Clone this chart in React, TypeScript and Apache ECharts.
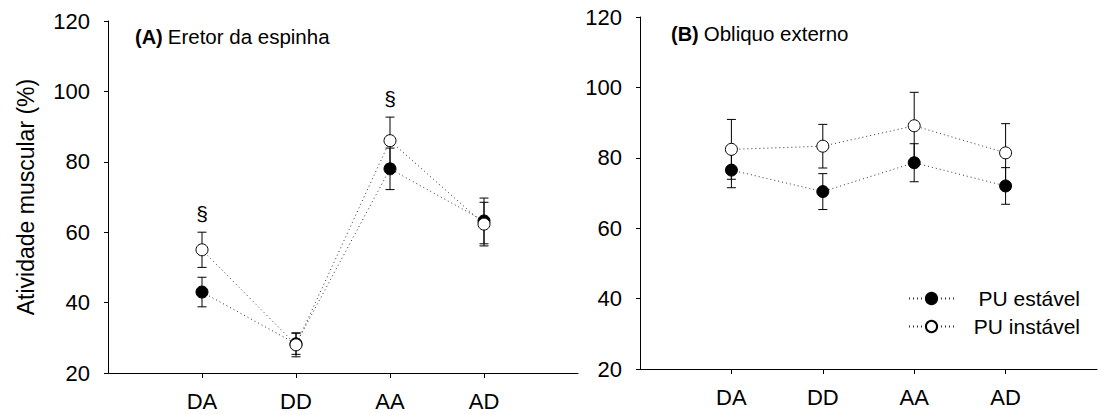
import React, { useEffect, useRef } from "react";
import * as echarts from "echarts";

// Task phases on the x axis
const categories = ["DA", "DD", "AA", "AD"];

// (A) Eretor da espinha — mean and SD per phase
const erectorStable = [43, 28.3, 78, 63.2];
const erectorStableSd = [4.2, 3.0, 5.9, 6.5];
const erectorUnstable = [55, 28, 86, 62.3];
const erectorUnstableSd = [5, 3.4, 6.7, 6.2];
const erectorMarks = ["§", "", "§", ""];

// (B) Obliquo externo — mean and SD per phase
const obliqueStable = [76.5, 70.4, 78.6, 72];
const obliqueStableSd = [5, 5.1, 5.4, 5.2];
const obliqueUnstable = [82.4, 83.3, 89.1, 81.4];
const obliqueUnstableSd = [8.5, 6.2, 9.5, 8.3];

const yTicks = { min: 20, max: 120, interval: 20 };
const seriesNames = ["PU estável", "PU instável"];

const FONT = "Liberation Sans, Arial, Helvetica, sans-serif";
const INK = "#000";

const points = (vals: number[]) => vals.map((v, i) => [i + 1, v]);
const withSd = (vals: number[], sd: number[]) => vals.map((v, i) => [i + 1, v, sd[i]]);

function errorSeries(gridIndex: number, vals: number[], sd: number[], marks?: string[]) {
  return {
    type: "custom",
    xAxisIndex: gridIndex,
    yAxisIndex: gridIndex,
    z: 1,
    silent: true,
    encode: { x: 0, y: 1 },
    data: withSd(vals, sd),
    renderItem: (params: any, api: any) => {
      const x = api.value(0);
      const m = api.value(1);
      const e = api.value(2);
      const top = api.coord([x, m + e]);
      const bot = api.coord([x, m - e]);
      const half = 4.5;
      const style = { stroke: INK, lineWidth: 1 };
      const children: any[] = [
        { type: "line", shape: { x1: top[0], y1: top[1], x2: bot[0], y2: bot[1] }, style },
        { type: "line", shape: { x1: top[0] - half, y1: top[1], x2: top[0] + half, y2: top[1] }, style },
        { type: "line", shape: { x1: bot[0] - half, y1: bot[1], x2: bot[0] + half, y2: bot[1] }, style },
      ];
      const mark = marks ? marks[params.dataIndex] : "";
      if (mark) {
        children.push({
          type: "text",
          style: {
            text: mark,
            x: top[0],
            y: top[1] - 8,
            align: "center",
            verticalAlign: "bottom",
            fontSize: 21,
            fontFamily: FONT,
            fill: INK,
          },
        });
      }
      return { type: "group", children };
    },
  };
}

function meanSeries(gridIndex: number, name: string, vals: number[], filled: boolean) {
  return {
    type: "line",
    name,
    xAxisIndex: gridIndex,
    yAxisIndex: gridIndex,
    z: filled ? 2 : 3,
    data: points(vals),
    symbol: "circle",
    symbolSize: 12,
    showAllSymbol: true,
    lineStyle: { color: "#333", width: 1, type: [1, 3] },
    itemStyle: filled
      ? { color: INK, borderColor: INK, borderWidth: 1 }
      : { color: "#fff", borderColor: INK, borderWidth: 1 },
  };
}

function xAxis(gridIndex: number) {
  return {
    type: "value",
    gridIndex,
    min: 0,
    max: 5,
    interval: 1,
    splitLine: { show: false },
    axisLine: { show: true, onZero: false, lineStyle: { color: INK, width: 1 } },
    axisTick: { show: true, length: 5, customValues: [1, 2, 3, 4], lineStyle: { color: INK } },
    axisLabel: {
      customValues: [1, 2, 3, 4],
      formatter: (v: number) => categories[Math.round(v) - 1] ?? "",
      fontSize: 22,
      fontFamily: FONT,
      color: INK,
      margin: 17,
    },
  };
}

function yAxis(gridIndex: number, name?: string) {
  return {
    type: "value",
    gridIndex,
    min: yTicks.min,
    max: yTicks.max,
    interval: yTicks.interval,
    splitLine: { show: false },
    axisLine: { show: true, lineStyle: { color: INK, width: 1 } },
    axisTick: { show: true, length: 4, lineStyle: { color: INK } },
    axisLabel: { fontSize: 22, fontFamily: FONT, color: INK, margin: 18 },
    name: name ?? "",
    nameLocation: "middle",
    nameRotate: 90,
    nameGap: 71,
    nameTextStyle: { fontSize: 23, fontFamily: FONT, color: INK },
  };
}

const titleRich = {
  b: { fontSize: 20, fontWeight: "bold", fontFamily: FONT, color: INK },
  n: { fontSize: 20.5, fontWeight: "normal", fontFamily: FONT, color: INK },
};

export default function App() {
  const ref = useRef<HTMLDivElement>(null);

  useEffect(() => {
    if (!ref.current) return;
    const chart = echarts.init(ref.current, undefined, { renderer: "svg" });

    chart.setOption({
      animation: false,
      backgroundColor: "#fff",
      title: [
        {
          text: "{b|(A)} {n|Eretor da espinha}",
          left: 130,
          top: 21,
          textStyle: { fontWeight: "normal", rich: titleRich },
        },
        {
          text: "{b|(B)} {n|Obliquo externo}",
          left: 666,
          top: 18,
          textStyle: { fontWeight: "normal", rich: titleRich },
        },
      ],
      legend: {
        data: seriesNames,
        orient: "vertical",
        left: 903,
        top: 283,
        itemWidth: 45,
        itemHeight: 14,
        itemGap: 7,
        selectedMode: false,
        formatter: (n: string) => `{t|${n}}`,
        textStyle: {
          rich: {
            t: { width: 121, align: "right", fontSize: 21, fontFamily: FONT, color: INK },
          },
        },
      },
      grid: [
        { left: 108, top: 21, width: 470, height: 352 },
        { left: 640, top: 17, width: 457, height: 352 },
      ],
      xAxis: [xAxis(0), xAxis(1)],
      yAxis: [yAxis(0, "Atividade muscular (%)"), yAxis(1)],
      series: [
        errorSeries(0, erectorStable, erectorStableSd),
        errorSeries(0, erectorUnstable, erectorUnstableSd, erectorMarks),
        meanSeries(0, seriesNames[0], erectorStable, true),
        meanSeries(0, seriesNames[1], erectorUnstable, false),
        errorSeries(1, obliqueStable, obliqueStableSd),
        errorSeries(1, obliqueUnstable, obliqueUnstableSd),
        meanSeries(1, seriesNames[0], obliqueStable, true),
        meanSeries(1, seriesNames[1], obliqueUnstable, false),
      ],
    });

    return () => chart.dispose();
  }, []);

  return (
    <div
      ref={ref}
      style={{ position: "absolute", left: 0, top: 0, width: 1107, height: 414 }}
    />
  );
}
